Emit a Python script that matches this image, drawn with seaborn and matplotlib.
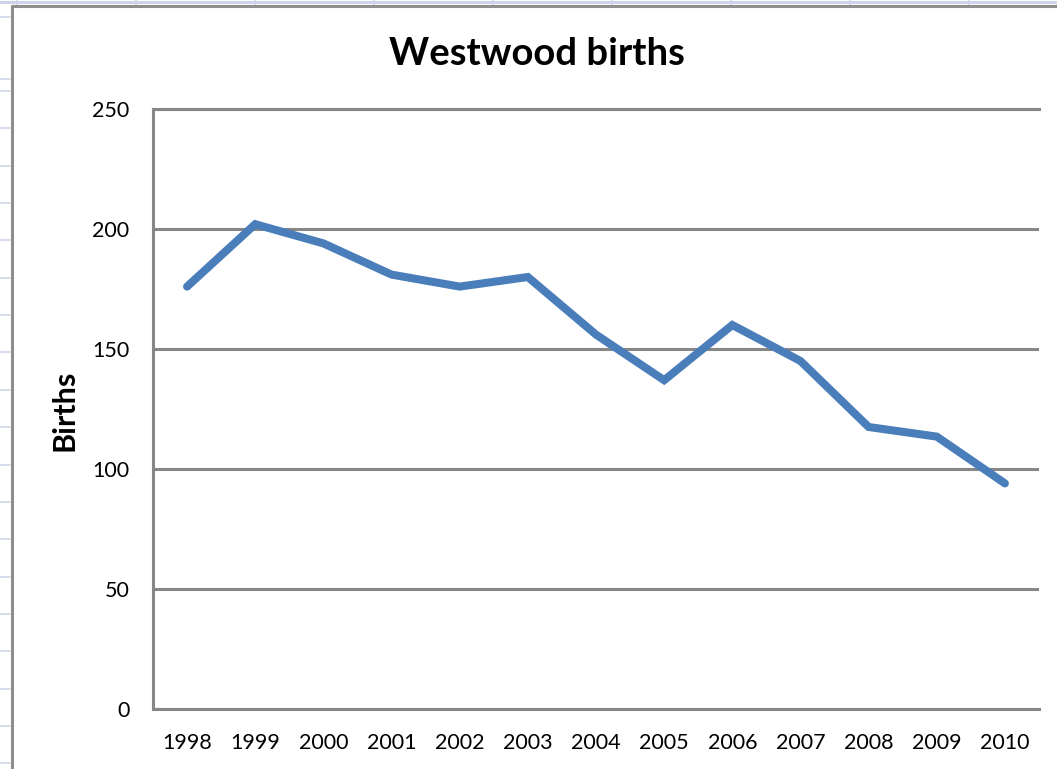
import matplotlib
matplotlib.use("Agg")
import matplotlib.pyplot as plt
from matplotlib.lines import Line2D
import seaborn as sns
import pandas as pd

years = [1998, 1999, 2000, 2001, 2002, 2003, 2004, 2005, 2006, 2007, 2008, 2009, 2010]
births = [176, 202, 194, 181, 176, 180, 156, 137, 160, 145, 117.5, 113.5, 94]
yticks = [0, 50, 100, 150, 200, 250]

df = pd.DataFrame({"Year": years, "Births": births})

sns.set_theme(style="white")
plt.rcParams["font.family"] = ["Lato", "DejaVu Sans"]

W, H = 1057, 769
fig = plt.figure(figsize=(W / 100, H / 100), dpi=100)
fig.patch.set_facecolor("white")

# spreadsheet background (faint cell grid outside the chart area)
cell = "#cdd6e8"
def px(x, y):
    return x / W, 1 - y / H
fig.add_artist(Line2D([0, 1], [1 - 1.5 / H, 1 - 1.5 / H], color=cell, lw=2.2, transform=fig.transFigure))
for cx in [17, 136, 255, 374, 493, 612, 731, 850, 969]:
    x0, y0 = px(cx, 0)
    x1, y1 = px(cx, 5)
    fig.add_artist(Line2D([x0, x1], [y0, y1], color=cell, lw=1.2, transform=fig.transFigure))
rows = [17, 79] + [91 + 37.35 * k for k in range(19)]
for ry in rows:
    x0, y0 = px(0, ry)
    x1, y1 = px(10, ry)
    fig.add_artist(Line2D([x0, x1], [y0, y1], color=cell, lw=1.2, transform=fig.transFigure))

# chart area border
bx, by = px(12, 5.5)
fig.add_artist(Line2D([bx, bx], [0, by], color="#8e8e8e", lw=2.2, transform=fig.transFigure))
fig.add_artist(Line2D([bx, 1], [by, by], color="#8e8e8e", lw=2.2, transform=fig.transFigure))

ax = fig.add_axes([153 / W, 1 - 709 / H, (1039 - 153) / W, (709 - 109) / H])
ax.set_facecolor("white")

sns.lineplot(data=df, x="Year", y="Births", ax=ax, color="#4a7ebb", lw=5.8,
             solid_capstyle="round", solid_joinstyle="miter", zorder=5)

ax.set_xlim(years[0] - 0.5, years[-1] + 0.5)
ax.set_ylim(yticks[0], yticks[-1])
ax.set_xticks(years)
ax.set_xticklabels([str(y) for y in years])
ax.set_yticks(yticks)
ax.yaxis.grid(True, color="#878787", lw=2.2)
ax.xaxis.grid(False)
ax.spines["right"].set_visible(False)
for s in ["left", "top", "bottom"]:
    ax.spines[s].set_color("#878787")
    ax.spines[s].set_linewidth(2.2)
ax.tick_params(axis="both", length=0, labelsize=15.5, colors="black")
ax.tick_params(axis="y", pad=17)
ax.tick_params(axis="x", pad=17)
ax.set_xlabel("")
ax.set_ylabel("")

fig.text(65 / W, 1 - 410 / H, "Births", fontsize=22, fontweight="bold", rotation=90,
         ha="center", va="center", color="black")
fig.text(537 / W, 1 - 54 / H, "Westwood births", fontsize=27.5, fontweight="bold",
         ha="center", va="center", color="black")

fig.savefig("out.png", dpi=100, facecolor="white")
